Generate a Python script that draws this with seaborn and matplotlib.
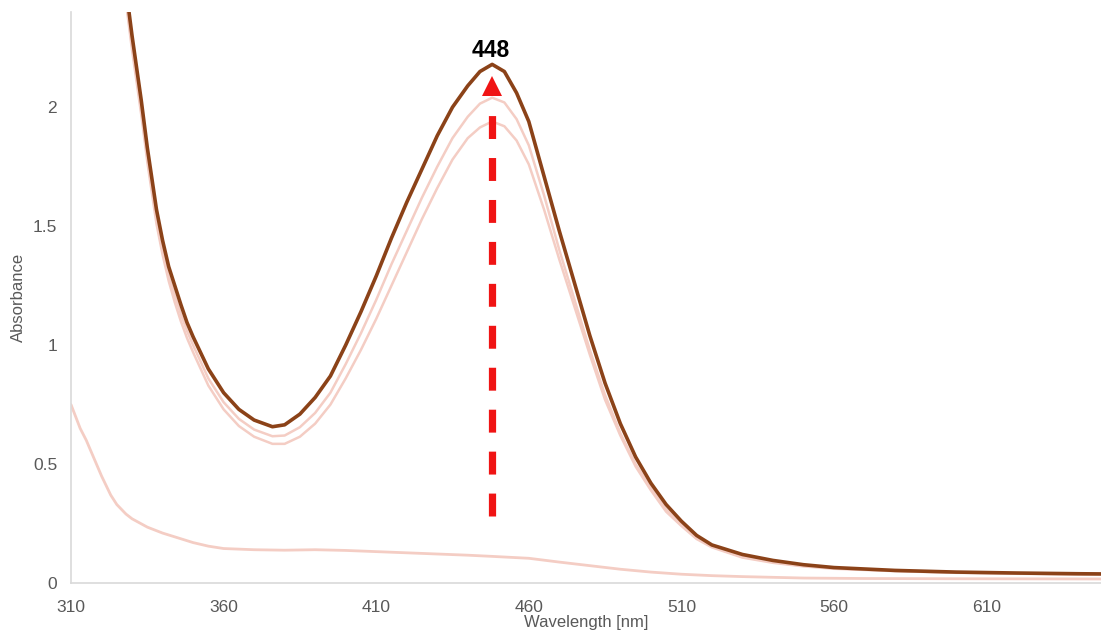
import numpy as np
import pandas as pd
import matplotlib
matplotlib.use("Agg")
import matplotlib.pyplot as plt
import seaborn as sns

# ---------------- data ----------------
wl_main = [325, 328, 330, 333, 335, 338, 340, 342, 344, 346, 348, 350, 355, 360, 365,
           370, 376, 380, 385, 390, 395, 400, 405, 410, 415, 420, 425, 430, 435, 440,
           444, 448, 452, 456, 460, 465, 470, 475, 480, 485, 490, 495, 500, 505, 510,
           515, 520, 530, 540, 550, 560, 580, 600, 620, 640, 650]

abs_dark = [2.85, 2.50, 2.30, 2.03, 1.83, 1.57, 1.44, 1.33, 1.25, 1.17, 1.095, 1.035,
            0.90, 0.80, 0.73, 0.685, 0.657, 0.665, 0.71, 0.78, 0.87, 1.00, 1.14,
            1.29, 1.45, 1.60, 1.74, 1.88, 2.00, 2.09, 2.15, 2.18, 2.15, 2.06, 1.94,
            1.71, 1.48, 1.26, 1.04, 0.84, 0.67, 0.53, 0.42, 0.33, 0.26, 0.20, 0.16,
            0.12, 0.095, 0.077, 0.065, 0.053, 0.046, 0.042, 0.039, 0.038]

abs_light1 = [2.80, 2.46, 2.26, 1.99, 1.79, 1.53, 1.40, 1.29, 1.21, 1.13, 1.06, 1.00,
              0.86, 0.76, 0.69, 0.645, 0.617, 0.62, 0.655, 0.715, 0.80, 0.92, 1.05,
              1.19, 1.34, 1.48, 1.62, 1.75, 1.87, 1.96, 2.015, 2.04, 2.02, 1.95, 1.84,
              1.63, 1.40, 1.19, 0.98, 0.79, 0.63, 0.50, 0.40, 0.31, 0.245, 0.19, 0.155,
              0.11, 0.088, 0.072, 0.062, 0.051, 0.044, 0.040, 0.037, 0.036]

abs_light2 = [2.78, 2.44, 2.24, 1.97, 1.77, 1.51, 1.38, 1.27, 1.18, 1.10, 1.03, 0.97,
              0.83, 0.73, 0.66, 0.615, 0.585, 0.585, 0.615, 0.67, 0.75, 0.86, 0.98,
              1.11, 1.25, 1.39, 1.53, 1.66, 1.78, 1.87, 1.915, 1.94, 1.92, 1.86, 1.76,
              1.57, 1.36, 1.16, 0.96, 0.77, 0.62, 0.49, 0.39, 0.30, 0.24, 0.185, 0.15,
              0.107, 0.085, 0.070, 0.060, 0.050, 0.043, 0.039, 0.036, 0.035]

wl_base = [310, 313, 315, 318, 320, 323, 325, 328, 330, 335, 340, 345, 350, 355, 360,
           370, 380, 390, 400, 410, 420, 430, 440, 448, 460, 470, 480, 490, 500, 510,
           520, 530, 540, 550, 570, 600, 650]
abs_base = [0.75, 0.65, 0.60, 0.51, 0.45, 0.37, 0.33, 0.29, 0.27, 0.235, 0.21, 0.19,
            0.17, 0.155, 0.145, 0.14, 0.138, 0.14, 0.137, 0.132, 0.127, 0.122, 0.117,
            0.112, 0.104, 0.088, 0.073, 0.058, 0.046, 0.037, 0.031, 0.027, 0.024,
            0.021, 0.019, 0.018, 0.017]

peak_wl = 448
peak_label = "448"
arrow_start, arrow_end, arrow_head = 0.28, 1.98, 2.088

x_ticks = [310, 360, 410, 460, 510, 560, 610]
y_ticks = [0, 0.5, 1, 1.5, 2]
y_ticklabels = ["0", "0.5", "1", "1.5", "2"]

# ---------------- style ----------------
sns.set_theme(style="white")
plt.rcParams["font.family"] = ["Liberation Sans", "DejaVu Sans"]
plt.rcParams["lines.scale_dashes"] = False

fig = plt.figure(figsize=(11.01, 6.34), dpi=100)
ax = fig.add_axes([0.0645, 0.0804, 0.9355, 0.9006])

light_col = "#f4cdc4"
dark_col = "#8b4218"

df_base = pd.DataFrame({"wl": wl_base, "A": abs_base})
sns.lineplot(data=df_base, x="wl", y="A", ax=ax, color=light_col, lw=2.0,
             sort=False, estimator=None)
for vals in (abs_light2, abs_light1):
    d = pd.DataFrame({"wl": wl_main, "A": vals})
    sns.lineplot(data=d, x="wl", y="A", ax=ax, color=light_col, lw=1.8,
                 sort=False, estimator=None)
d = pd.DataFrame({"wl": wl_main, "A": abs_dark})
sns.lineplot(data=d, x="wl", y="A", ax=ax, color=dark_col, lw=2.6,
             sort=False, estimator=None)

# dashed red arrow
red = "#f01414"
ax.plot([peak_wl, peak_wl], [arrow_start, arrow_end], color=red, lw=5.2,
        linestyle=(0, (16.5, 13.7)), solid_capstyle="butt", dash_capstyle="butt")
ax.plot([peak_wl], [arrow_head], marker="^", markersize=15, color=red, mew=0)
ax.text(peak_wl - 0.5, 2.24, peak_label, ha="center", va="center",
        fontsize=16.5, fontweight="bold", color="black")

ax.set_xlim(310, 647.5)
ax.set_ylim(0, 2.4)
ax.set_xticks(x_ticks)
ax.set_yticks(y_ticks)
ax.set_yticklabels(y_ticklabels)

gray = "#595959"
ax.tick_params(axis="x", colors=gray, labelsize=12.5, length=0, pad=12)
ax.tick_params(axis="y", colors=gray, labelsize=12.5, length=0, pad=10)
ax.set_xlabel("Wavelength [nm]", color=gray, fontsize=12, labelpad=0)
ax.set_ylabel("Absorbance", color=gray, fontsize=12, labelpad=5)

for s in ("top", "right"):
    ax.spines[s].set_visible(False)
for s in ("left", "bottom"):
    ax.spines[s].set_color("#d9d9d9")
    ax.spines[s].set_linewidth(1.2)

fig.savefig("out.png", dpi=100)
